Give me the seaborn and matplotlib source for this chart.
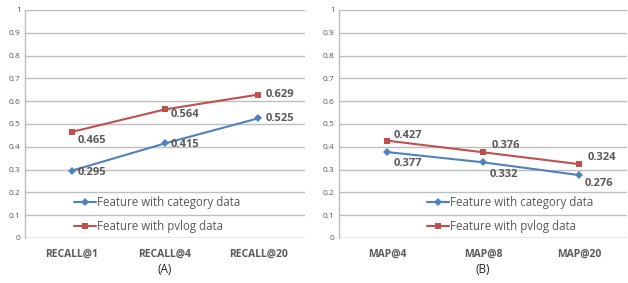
import matplotlib
matplotlib.use("Agg")
import matplotlib.pyplot as plt
import seaborn as sns
import pandas as pd

cats_a = ["RECALL@1", "RECALL@4", "RECALL@20"]
cat_a = [0.295, 0.415, 0.525]
pv_a = [0.465, 0.564, 0.629]
cats_b = ["MAP@4", "MAP@8", "MAP@20"]
cat_b = [0.377, 0.332, 0.276]
pv_b = [0.427, 0.376, 0.324]
series = ["Feature with category data", "Feature with pvlog data"]
yticks = [0, 0.1, 0.2, 0.3, 0.4, 0.5, 0.6, 0.7, 0.8, 0.9, 1]
ytick_labels = ["0", "0.1", "0.2", "0.3", "0.4", "0.5", "0.6", "0.7", "0.8", "0.9", "1"]
panel_titles = ["(A)", "(B)"]

sns.set_theme(style="white")
plt.rcParams['font.family'] = ['Open Sans', 'DejaVu Sans']

BLUE = "#4F81BD"
RED = "#C0504D"
GRID = "#BDBDBD"
TXT = "#595959"

fig = plt.figure(figsize=(6.28, 2.83), dpi=100)
axA = fig.add_axes([25/628, 1-238/283, 280/628, 228/283])
axB = fig.add_axes([339/628, 1-238/283, 288/628, 228/283])

# label offsets (points) per panel / series / index
offs_a = {0: [(4, -1), (4, -1), (5, 0)], 1: [(4, -6), (4, -4), (5, 0)]}
offs_b = {0: [(5, -8), (5, -8.5), (4, -6)], 1: [(5, 4), (6, 5), (6, 5)]}

def draw(ax, cats, s1, s2, offs, title, leg_x):
    df = pd.DataFrame({
        "cat": cats * 2,
        "val": s1 + s2,
        "series": [series[0]] * 3 + [series[1]] * 3,
    })
    df["x"] = list(range(3)) * 2
    sns.lineplot(data=df, x="x", y="val", hue="series", style="series",
                 markers={series[0]: "D", series[1]: "s"}, dashes=False,
                 palette={series[0]: BLUE, series[1]: RED},
                 markersize=4, linewidth=1.5, markeredgewidth=0,
                 ax=ax)
    for si, vals in enumerate([s1, s2]):
        for i, v in enumerate(vals):
            dx, dy = offs[si][i]
            ax.annotate(f"{v:.3f}", (i, v), xytext=(dx, dy), textcoords="offset points",
                        ha="left", va="center", fontsize=8, fontweight="bold", color=TXT)
    ax.set_xlim(-0.5, 2.5)
    ax.set_ylim(0, 1)
    ax.set_yticks(yticks)
    ax.set_yticklabels(ytick_labels, fontsize=6, color=TXT)
    ax.set_xticks(range(3))
    ax.set_xticklabels(cats, fontsize=7.5, fontweight="bold", color=TXT)
    ax.tick_params(axis="both", length=0, pad=3)
    ax.tick_params(axis="x", pad=8)
    ax.set_xlabel(title, fontsize=8.5, color="#222222", labelpad=2)
    ax.set_ylabel("")
    ax.grid(axis="y", color=GRID, linewidth=1)
    ax.set_axisbelow(True)
    for s in ["top", "right", "bottom"]:
        ax.spines[s].set_visible(False)
    ax.spines["left"].set_color(GRID)
    ax.spines["left"].set_linewidth(1)
    ax.axhline(0, color=GRID, linewidth=1, zorder=0)
    leg = ax.legend(loc="lower left", bbox_to_anchor=(leg_x, 0.0), frameon=False,
                    fontsize=8.3, handlelength=1.9, handletextpad=0.1, labelspacing=1.0,
                    borderaxespad=0)
    for t in leg.get_texts():
        t.set_color(TXT)

draw(axA, cats_a, cat_a, pv_a, offs_a, panel_titles[0], 0.16)
draw(axB, cats_b, cat_b, pv_b, offs_b, panel_titles[1], 0.29)

fig.savefig("out.png", dpi=100)
